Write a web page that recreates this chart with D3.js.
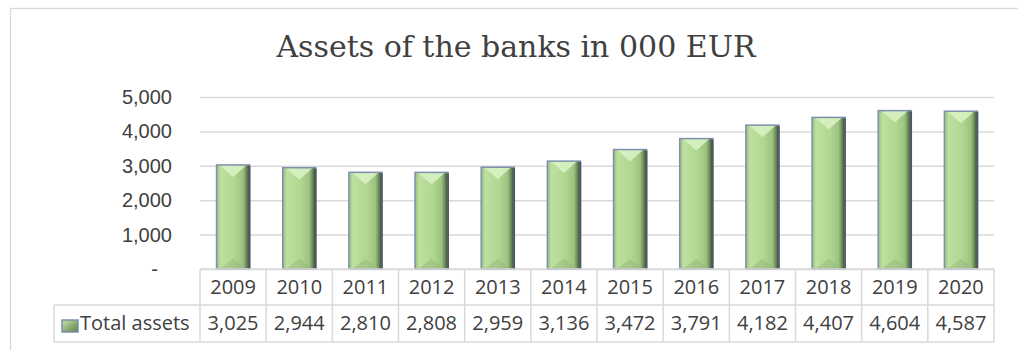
<!DOCTYPE html>
<html>
<head>
<meta charset="utf-8">
<script src="https://cdn.jsdelivr.net/npm/d3@7"></script>
<style>
  body { margin: 0; background: #fff; }
  svg { display: block; }
</style>
</head>
<body>
<svg id="chart" width="1018" height="350"></svg>
<script>
// data
var years = ["2009", "2010", "2011", "2012", "2013", "2014", "2015", "2016", "2017", "2018", "2019", "2020"];
var totalAssets = [3025, 2944, 2810, 2808, 2959, 3136, 3472, 3791, 4182, 4407, 4604, 4587];
var yTicks = [0, 1000, 2000, 3000, 4000, 5000];
var seriesName = "Total assets";
var chartTitle = "Assets of the banks in 000 EUR";

var svg = d3.select("#chart");
var gridColor = "#d9d9d9";
var textColor = "#404040";

//plot box (note: "top" is taken by window.top)
var plotLeft = 200, plotRight = 994, plotTop = 97, plotBottom = 269;
var rowH1 = 36, rowH2 = 37, tableLeft = 54;

var x = d3.scaleBand().domain(years).range([plotLeft, plotRight]).padding(0);
var y = d3.scaleLinear().domain([0, 5000]).range([plotBottom, plotTop]);

//outer chart border (cropped on right and bottom)
svg.append("rect")
  .attr("x", 10.5).attr("y", 8.5)
  .attr("width", 1040).attr("height", 380)
  .attr("fill", "none")
  .attr("stroke", gridColor)
  .attr("stroke-width", 1.3);

//title
svg.append("text")
  .attr("x", 516).attr("y", 57)
  .attr("text-anchor", "middle")
  .attr("font-family", "'DejaVu Serif', serif")
  .attr("font-size", 30)
  .attr("fill", textColor)
  .text(chartTitle);

//gradients for the bevelled bars
var defs = svg.append("defs");
var g1 = defs.append("linearGradient").attr("id", "barFill")
  .attr("x1", "0").attr("x2", "1").attr("y1", "0").attr("y2", "0");
[["0%", "#98bb7c"], ["12%", "#bde0a0"], ["55%", "#b0d690"], ["80%", "#9cc381"], ["90%", "#6f8d5a"], ["100%", "#354030"]]
  .forEach(function(s){ g1.append("stop").attr("offset", s[0]).attr("stop-color", s[1]); });

//y axis with gridlines
var yAxis = d3.axisLeft(y)
  .tickValues(yTicks)
  .tickSize(-(plotRight - plotLeft))
  .tickPadding(28)
  .tickFormat(function(d){ return d === 0 ? "-" : d3.format(",")(d); });

var yg = svg.append("g")
  .attr("transform", "translate(" + plotLeft + ",0)")
  .call(yAxis);
yg.select(".domain").remove();
yg.selectAll(".tick line").attr("stroke", gridColor).attr("stroke-width", 1.5);
yg.selectAll(".tick text")
  .attr("font-family", "'Liberation Sans', Arial, sans-serif")
  .attr("font-size", 20)
  .attr("fill", textColor)
  .attr("dx", function(d){ return d === 0 ? -14 : 0; });

//bars
var data = years.map(function(yr, i){ return {year: yr, value: totalAssets[i]}; });
var bw = x.bandwidth() * 0.5;
function barX(d){ return x(d.year) + (x.bandwidth() - bw) / 2; }

var bars = svg.append("g").selectAll("g")
  .data(data)
  .enter()
  .append("g");

bars.append("rect")
  .attr("x", barX)
  .attr("y", function(d){ return y(d.value); })
  .attr("width", bw)
  .attr("height", function(d){ return y(0) - y(d.value); })
  .attr("fill", "url(#barFill)");

//top bevel (light triangle)
bars.append("path")
  .attr("d", function(d){
    var x0 = barX(d), y0 = y(d.value);
    return "M" + (x0 + 3) + "," + y0 + "L" + (x0 + bw - 3) + "," + y0 + "L" + (x0 + bw / 2) + "," + (y0 + 12) + "Z";
  })
  .attr("fill", "#d8f1c2")
  .attr("opacity", 0.9);

//bottom bevel (slightly darker triangle)
bars.append("path")
  .attr("d", function(d){
    var x0 = barX(d), y0 = y(0);
    return "M" + (x0 + 3) + "," + y0 + "L" + (x0 + bw - 3) + "," + y0 + "L" + (x0 + bw / 2) + "," + (y0 - 10) + "Z";
  })
  .attr("fill", "#94b47a")
  .attr("opacity", 0.45);

bars.append("rect")
  .attr("x", barX)
  .attr("y", function(d){ return y(d.value); })
  .attr("width", bw)
  .attr("height", function(d){ return y(0) - y(d.value); })
  .attr("fill", "none")
  .attr("stroke", "#7d90ad")
  .attr("stroke-width", 1.5);

//darker shadow edge on the right side
bars.append("line")
  .attr("x1", function(d){ return barX(d) + bw; })
  .attr("x2", function(d){ return barX(d) + bw; })
  .attr("y1", function(d){ return y(d.value) + 1; })
  .attr("y2", y(0))
  .attr("stroke", "#4a5566")
  .attr("stroke-width", 1.5);

//data table under the plot
var table = svg.append("g");
var tFont = "'Open Sans', 'Noto Sans', sans-serif";

//horizontal lines
table.append("line").attr("x1", plotLeft).attr("x2", plotRight).attr("y1", plotBottom).attr("y2", plotBottom)
  .attr("stroke", gridColor).attr("stroke-width", 1.5);
table.append("line").attr("x1", tableLeft).attr("x2", plotRight).attr("y1", plotBottom + rowH1).attr("y2", plotBottom + rowH1)
  .attr("stroke", gridColor).attr("stroke-width", 1.5);
table.append("line").attr("x1", tableLeft).attr("x2", plotRight).attr("y1", plotBottom + rowH1 + rowH2).attr("y2", plotBottom + rowH1 + rowH2)
  .attr("stroke", gridColor).attr("stroke-width", 1.5);

//vertical lines
var edges = years.map(function(yr){ return x(yr); }).concat([plotRight]);
table.selectAll("line.v")
  .data(edges)
  .enter()
  .append("line")
  .attr("class", "v")
  .attr("x1", function(d){ return d; }).attr("x2", function(d){ return d; })
  .attr("y1", plotBottom).attr("y2", plotBottom + rowH1 + rowH2)
  .attr("stroke", gridColor).attr("stroke-width", 1.5);
table.append("line").attr("x1", tableLeft).attr("x2", tableLeft)
  .attr("y1", plotBottom + rowH1).attr("y2", plotBottom + rowH1 + rowH2)
  .attr("stroke", gridColor).attr("stroke-width", 1.5);

//year labels
table.selectAll("text.year")
  .data(years)
  .enter()
  .append("text")
  .attr("class", "year")
  .attr("x", function(d){ return x(d) + x.bandwidth() / 2; })
  .attr("y", plotBottom + 25)
  .attr("text-anchor", "middle")
  .attr("font-family", tFont)
  .attr("font-size", 20)
  .attr("fill", textColor)
  .text(function(d){ return d; });

//value labels
table.selectAll("text.val")
  .data(data)
  .enter()
  .append("text")
  .attr("class", "val")
  .attr("x", function(d){ return x(d.year) + x.bandwidth() / 2; })
  .attr("y", plotBottom + rowH1 + 25)
  .attr("text-anchor", "middle")
  .attr("font-family", tFont)
  .attr("font-size", 20)
  .attr("fill", textColor)
  .text(function(d){ return d3.format(",")(d.value); });

//legend key + series name
var keyG = defs.append("linearGradient").attr("id", "keyFill")
  .attr("x1", "0").attr("x2", "1").attr("y1", "0").attr("y2", "1");
keyG.append("stop").attr("offset", "0%").attr("stop-color", "#c6e6a9");
keyG.append("stop").attr("offset", "100%").attr("stop-color", "#5f7d4a");
table.append("rect")
  .attr("x", 62).attr("y", 320).attr("width", 16).attr("height", 12)
  .attr("fill", "url(#keyFill)")
  .attr("stroke", "#7d90ad").attr("stroke-width", 1.5);
table.append("text")
  .attr("x", 80).attr("y", plotBottom + rowH1 + 25)
  .attr("font-family", tFont)
  .attr("font-size", 20)
  .attr("fill", textColor)
  .text(seriesName);
</script>
</body>
</html>
